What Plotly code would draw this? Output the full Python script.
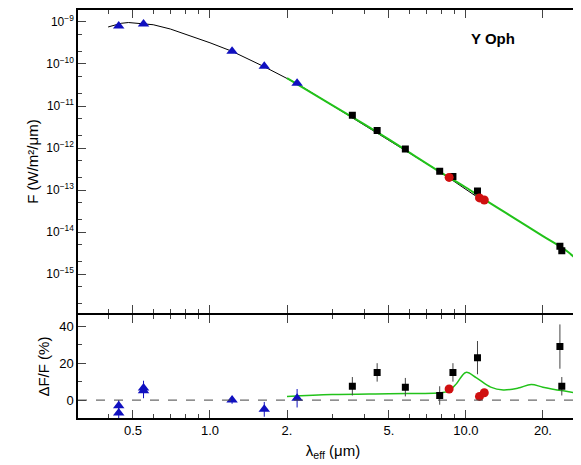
import plotly.graph_objects as go
import numpy as np

# photometry (top panel)
tri_x = [0.44, 0.55, 1.22, 1.63, 2.19]
tri_f = [8.0e-10, 9.0e-10, 2.0e-10, 8.8e-11, 3.5e-11]
sq_x = [3.6, 4.5, 5.8, 7.9, 8.9, 11.1, 23.3, 23.7]
sq_f = [6.0e-12, 2.6e-12, 9.5e-13, 2.8e-13, 2.1e-13, 9.5e-14, 4.6e-15, 3.6e-15]
red_x = [8.6, 11.3, 11.8]
red_f = [2.0e-13, 6.5e-14, 5.8e-14]
# model curves
blk_x = [0.40, 0.42, 0.45, 0.48, 0.52, 0.6, 0.7, 0.8, 1.0, 1.22, 1.63, 2.19, 3.0, 5.0, 8.0, 11.0]
blk_f = [7.6e-10, 8.3e-10, 9.3e-10, 9.7e-10, 9.4e-10, 8.6e-10, 6.8e-10, 5.2e-10, 3.2e-10, 2.0e-10, 8.6e-11, 3.4e-11, 1.05e-11, 1.5e-12, 2.6e-13, 7.0e-14]
grn_x = [2.0, 3.0, 4.0, 5.0, 6.0, 8.0, 9.0, 10.0, 12.0, 15.0, 20.0, 25.0, 30.0]
grn_f = [4.6e-11, 1.05e-11, 3.7e-12, 1.6e-12, 7.9e-13, 2.6e-13, 1.7e-13, 1.15e-13, 5.6e-14, 2.4e-14, 8.0e-15, 3.4e-15, 1.2e-15]
# residuals (bottom panel)
tri_rx = [0.44, 0.44, 0.55, 0.55, 1.22, 1.63, 2.19]
tri_r = [-3, -7, 5, 6.5, 0, -5, 1]
tri_re = [3, 3, 4, 4, 2, 4, 5]
sq_r = [7.5, 15, 7, 2.5, 15, 23, 29, 7.5]
sq_re = [5, 5, 5, 5, 5, 9, 12, 5]
red_r = [6, 2, 4]
red_re = [2, 2, 2]
grn_rx = [2.0, 3.0, 5.0, 8.0, 8.6, 9.2, 10.0, 11.0, 12.5, 14.0, 16.0, 18.0, 20.0, 24.0, 30.0]
grn_r = [2.0, 3.0, 3.5, 4.0, 5.0, 9.0, 15.0, 12.0, 7.0, 5.5, 6.5, 8.5, 7.0, 5.0, 3.0]

fig = go.Figure()
fig.add_trace(go.Scatter(x=blk_x, y=blk_f, mode="lines", line=dict(color="black", width=1), yaxis="y"))
fig.add_trace(go.Scatter(x=grn_x, y=grn_f, mode="lines", line=dict(color="#22c21a", width=2), line_shape="spline", yaxis="y"))
fig.add_trace(go.Scatter(x=tri_x, y=tri_f, mode="markers", marker=dict(symbol="triangle-up", color="#1010c0", size=10), yaxis="y"))
fig.add_trace(go.Scatter(x=sq_x, y=sq_f, mode="markers", marker=dict(symbol="square", color="black", size=7), yaxis="y"))
fig.add_trace(go.Scatter(x=red_x, y=red_f, mode="markers", marker=dict(symbol="circle", color="#d01010", size=9), yaxis="y"))

fig.add_trace(go.Scatter(x=grn_rx, y=grn_r, mode="lines", line=dict(color="#22c21a", width=1.5), line_shape="spline", xaxis="x2", yaxis="y2"))
fig.add_trace(go.Scatter(x=tri_rx, y=tri_r, error_y=dict(array=tri_re, color="#1010c0", thickness=1, width=0), mode="markers",
                         marker=dict(symbol="triangle-up", color="#1010c0", size=10), xaxis="x2", yaxis="y2"))
fig.add_trace(go.Scatter(x=sq_x, y=sq_r, error_y=dict(array=sq_re, color="#444", thickness=1, width=0), mode="markers",
                         marker=dict(symbol="square", color="black", size=7), xaxis="x2", yaxis="y2"))
fig.add_trace(go.Scatter(x=red_x, y=red_r, error_y=dict(array=red_re, color="#e06060", thickness=1, width=0), mode="markers",
                         marker=dict(symbol="circle", color="#d01010", size=9), xaxis="x2", yaxis="y2"))

xr = [np.log10(0.305), np.log10(30)]
xt = [0.5, 1.0, 2.0, 5.0, 10.0, 20.0]
xtt = ["0.5", "1.0", "2.", "5.", "10.0", "20."]
common_x = dict(type="log", range=xr, ticks="inside", ticklen=8, mirror="allticks", showline=True, linecolor="black",
                linewidth=1.5, showgrid=False, zeroline=False, tickvals=xt, automargin=False,
                minor=dict(ticks="inside", ticklen=4, showgrid=False, tickvals=[0.4, 0.6, 0.7, 0.8, 0.9, 3, 4, 6, 7, 8, 9, 30]))
yt = [1e-9, 1e-10, 1e-11, 1e-12, 1e-13, 1e-14, 1e-15]
ytt = ["10<sup>−%d</sup>" % k for k in range(9, 16)]
fig.update_layout(
    width=581, height=465, plot_bgcolor="white", paper_bgcolor="white", showlegend=False,
    margin=dict(l=70, r=1, t=2, b=55),
    font=dict(family="Liberation Sans, Arial", size=13, color="black"),
    xaxis=dict(common_x, domain=[0, 1], anchor="y", showticklabels=False),
    yaxis=dict(type="log", domain=[0.257, 1], range=[-15.93, -8.715], tickvals=yt, ticktext=ytt, ticks="inside", ticklen=8,
               mirror="allticks", showline=True, linecolor="black", linewidth=1.5, showgrid=False, zeroline=False,
               automargin=False, minor=dict(ticks="inside", ticklen=4, showgrid=False, dtick="D2"),
               title=dict(text="F (W/m²/μm)", standoff=4, font=dict(size=15)), tickfont=dict(size=12)),
    xaxis2=dict(common_x, domain=[0, 1], anchor="y2", ticktext=xtt,
                title=dict(text="λ<sub>eff</sub> (μm)", standoff=8, font=dict(size=15))),
    yaxis2=dict(domain=[0, 0.252], range=[-9.7, 46], tickvals=[0, 20, 40], ticks="inside", ticklen=8, mirror="allticks",
                showline=True, linecolor="black", linewidth=1.5, showgrid=False, zeroline=False, automargin=False,
                minor=dict(ticks="inside", ticklen=4, dtick=10), title=dict(text="ΔF/F (%)", standoff=6, font=dict(size=15))),
    shapes=[dict(type="line", xref="x2 domain", yref="y2", x0=0, x1=1, y0=0, y1=0, line=dict(color="#444", width=1, dash="dash"))],
    annotations=[dict(text="<b>Y Oph</b>", xref="paper", yref="paper", x=0.86, y=0.955, showarrow=False, font=dict(size=15))],
)
fig.write_html("out.html")
